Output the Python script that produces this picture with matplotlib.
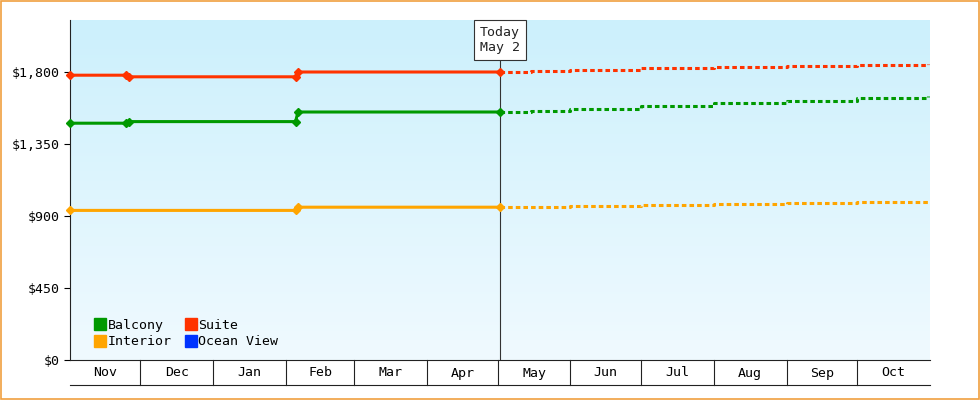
import matplotlib
matplotlib.use("Agg")
import matplotlib.pyplot as plt
import matplotlib.dates as mdates
import numpy as np

plt.rcParams['font.family'] = ['DejaVu Sans Mono']

# historical series (date, value)
suite_d = ["2023-11-01", "2023-11-25", "2023-11-26", "2024-02-05", "2024-02-06", "2024-05-02"]
suite_v = [1780, 1780, 1770, 1770, 1800, 1800]
balcony_d = ["2023-11-01", "2023-11-25", "2023-11-26", "2024-02-05", "2024-02-06", "2024-05-02"]
balcony_v = [1480, 1480, 1490, 1490, 1550, 1550]
interior_d = ["2023-11-01", "2024-02-05", "2024-02-06", "2024-05-02"]
interior_v = [935, 935, 955, 955]
# forecast series
fc_d = ["2024-05-02", "2024-05-15", "2024-06-01", "2024-07-01", "2024-08-01", "2024-09-01", "2024-10-01", "2024-10-31"]
suite_f = [1800, 1805, 1812, 1822, 1830, 1838, 1846, 1852]
balcony_f = [1550, 1558, 1570, 1590, 1605, 1620, 1638, 1650]
interior_f = [955, 958, 962, 968, 975, 980, 986, 992]
months = ["Nov", "Dec", "Jan", "Feb", "Mar", "Apr", "May", "Jun", "Jul", "Aug", "Sep", "Oct"]
yticks = [0, 450, 900, 1350, 1800]

def d(lst):
    return [mdates.date2num(np.datetime64(x)) for x in lst]

fig = plt.figure(figsize=(9.8, 4.0), dpi=100)
fig.patch.set_facecolor("white")
fig.patches.append(plt.Rectangle((0.001, 0.002), 0.998, 0.996, transform=fig.transFigure,
                                 fill=False, edgecolor="#f0a040", lw=1.2))
ax = fig.add_axes([70/980, 40/400, 860/980, 340/400])
x0 = mdates.date2num(np.datetime64("2023-11-01"))
x1 = mdates.date2num(np.datetime64("2024-11-01"))
ax.set_xlim(x0, x1)
ax.set_ylim(0, 2125)
grad = np.linspace(0, 1, 256).reshape(-1, 1)
ax.imshow(grad, extent=[x0, x1, 0, 2125], aspect="auto", origin="lower",
          cmap=matplotlib.colors.LinearSegmentedColormap.from_list("g", ["#f0faff", "#ccf0fc"]), zorder=0)

cols = {"Balcony": "#009900", "Suite": "#ff3300", "Interior": "#ffa500", "Ocean View": "#0033ff"}
for name, dd, vv, ff in [("Suite", suite_d, suite_v, suite_f), ("Balcony", balcony_d, balcony_v, balcony_f),
                         ("Interior", interior_d, interior_v, interior_f)]:
    c = cols[name]
    ax.plot(d(dd), vv, color=c, lw=2.2, marker="D", ms=4.5, zorder=3, clip_on=False)
    ax.plot(d(fc_d), ff, color=c, lw=2.2, ls=(0, (1.5, 1)), drawstyle="steps-post", zorder=3)

today = mdates.date2num(np.datetime64("2024-05-02"))
ax.axvline(today, color="#333333", lw=0.8, zorder=2)
ax.text(today, 2000, "Today\nMay 2", ha="center", va="center", fontsize=9.5, color="#222222",
        bbox=dict(boxstyle="square,pad=0.45", fc="white", ec="#333333", lw=0.8), zorder=5)

for s in ["top", "right"]:
    ax.spines[s].set_visible(False)
ax.spines["left"].set_color("#222222")
ax.spines["bottom"].set_color("#222222")
ax.set_yticks(yticks)
ax.set_yticklabels(["$0", "$450", "$900", "$1,350", "$1,800"], fontsize=9.5)
ax.tick_params(axis="y", length=4)

bounds = [mdates.date2num(np.datetime64(f"{y}-{m:02d}-01")) for y, m in
          [(2023, 11), (2023, 12), (2024, 1), (2024, 2), (2024, 3), (2024, 4), (2024, 5), (2024, 6),
           (2024, 7), (2024, 8), (2024, 9), (2024, 10), (2024, 11)]]
ax.set_xticks([])
trans = ax.get_xaxis_transform()
for b in bounds[1:-1]:
    ax.plot([b, b], [0, -25/340], color="#222222", lw=0.8, transform=trans, clip_on=False)
ax.plot([x0, x1], [-25/340, -25/340], color="#222222", lw=0.8, transform=trans, clip_on=False)
for i, m in enumerate(months):
    ax.text((bounds[i]+bounds[i+1])/2, -13/340, m, transform=trans, ha="center", va="center", fontsize=9.5)

from matplotlib.lines import Line2D
handles = [Line2D([], [], color=cols[n], marker="s", ls="none", ms=8) for n in ["Balcony", "Interior", "Suite", "Ocean View"]]
ax.legend(handles, ["Balcony", "Interior", "Suite", "Ocean View"], ncol=2, loc="lower left",
          frameon=False, fontsize=9.5, handletextpad=0.0, columnspacing=0.8, borderaxespad=0.5,
          labelspacing=0.25, handlelength=1.2, bbox_to_anchor=(0.012, 0.0))

fig.savefig("out.png", dpi=100)
